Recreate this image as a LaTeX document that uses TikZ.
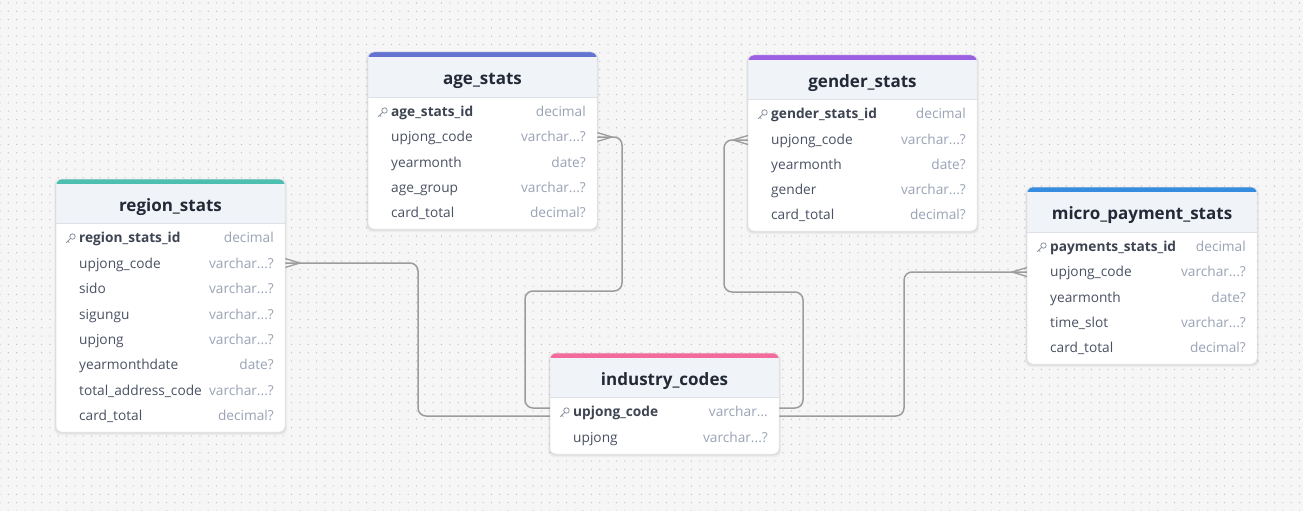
\documentclass[tikz,border=0pt]{standalone}
\usepackage{fontspec}
\setmainfont{Open Sans}
\usetikzlibrary{patterns.meta}
\definecolor{bgc}{HTML}{F6F6F6}
\definecolor{dotc}{HTML}{BDBDBD}
\definecolor{headbg}{HTML}{F0F3F8}
\definecolor{sepc}{HTML}{DCE1E8}
\definecolor{borderc}{HTML}{E2E5EA}
\definecolor{namec}{HTML}{4A5162}
\definecolor{pkc}{HTML}{3E4452}
\definecolor{typec}{HTML}{9AA3B5}
\definecolor{titlec}{HTML}{232936}
\definecolor{keyc}{HTML}{8F96A3}
\definecolor{linec}{HTML}{9C9C9C}
\definecolor{teal}{HTML}{4CBFB1}
\definecolor{indigo}{HTML}{6472D0}
\definecolor{purp}{HTML}{9B5FE2}
\definecolor{blu}{HTML}{368CDF}
\definecolor{pink}{HTML}{F46B9B}
\newcommand\ertable[8]{%
  \fill[black,opacity=0.04,rounded corners=6pt] (#2-2,#3) rectangle (#4+2,#6+3);
  \fill[black,opacity=0.06,rounded corners=6pt] (#2-1,#3+1) rectangle (#4+1,#6+1.5);
  \fill[white,rounded corners=6pt] (#2,#3) rectangle (#4,#6);
  \fill[#7,rounded corners=6pt] (#2,#3) rectangle (#4,#3+14);
  \fill[headbg] (#2,#3+5) rectangle (#4,#5);
  \draw[sepc,line width=0.8pt] (#2,#5) -- (#4,#5);
  \draw[borderc,line width=0.5pt,rounded corners=6pt] (#2,#3) rectangle (#4,#6);
  \node[titlef,anchor=base] (#1) at ({(#2+#4)/2},{(#3+5+#5)/2+7.5}) {#8};
}
\newcommand\erow[6]{% #1 id, #2 x1, #3 x2, #4 y, #5 name, #6 type
  \node[namef,anchor=base west] (#1) at (#2+23,#4+4.8) {#5};
  \node[typef,anchor=base east] (#1-t) at (#3-11,#4+4.8) {#6};
}
\newcommand\pkrow[6]{%
  \draw[keyc,line width=0.8pt] (#2+16.5,#4-1.5) circle (2.7);
  \draw[keyc,line width=0.8pt,line cap=round] (#2+14.6,#4+0.4) -- (#2+10.5,#4+4.5) (#2+11.8,#4+3.2) -- (#2+13.2,#4+4.6);
  \node[pkf,anchor=base west] (#1) at (#2+23,#4+4.8) {#5};
  \node[typef,anchor=base east] (#1-t) at (#3-11,#4+4.8) {#6};
}
\begin{document}
\begin{tikzpicture}[x=1pt,y=-1pt,
  titlef/.style={font=\fontsize{17}{19}\selectfont\bfseries,text=titlec,inner sep=0pt},
  namef/.style={font=\fontsize{13.7}{15}\selectfont,text=namec,inner sep=0pt},
  pkf/.style={font=\fontsize{13.7}{15}\selectfont\bfseries,text=pkc,inner sep=0pt},
  typef/.style={font=\fontsize{13.7}{15}\selectfont,text=typec,inner sep=0pt},
  conn/.style={draw=linec,line width=1.5pt,rounded corners=8pt},
  foot/.style={draw=linec,line width=1.3pt}]
\useasboundingbox (0,0) rectangle (1303,511);
\fill[bgc] (0,0) rectangle (1303,511);
\fill[pattern={Dots[radius=0.65pt,distance=8.33pt]},pattern color=dotc] (0,0) rectangle (1303,511);

% connector end points
\coordinate (rsE) at (285,263);
\coordinate (asE) at (597,137);
\coordinate (gsW) at (748,140);
\coordinate (mpW) at (1027,272);
\coordinate (icWa) at (551,408);
\coordinate (icWb) at (551,416);
\coordinate (icEa) at (778,408);
\coordinate (icEb) at (778,416);

% connectors
\draw[conn] (rsE) -- (418,263) -- (418,416) -- (icWb);
\draw[conn] (asE) -- (622,137) -- (622,291) -- (525,291) -- (525,408) -- (icWa);
\draw[conn] (gsW) -- (724,140) -- (724,292) -- (803,292) -- (803,408) -- (icEa);
\draw[conn] (mpW) -- (904,272) -- (904,416) -- (icEb);
% crow's feet
\draw[foot] (rsE) ++(15,0) -- ++(-15,-4.5) (rsE) ++(15,0) -- ++(-15,4.5);
\draw[foot] (asE) ++(15,0) -- ++(-15,-4.5) (asE) ++(15,0) -- ++(-15,4.5);
\draw[foot] (gsW) ++(-15,0) -- ++(15,-4.5) (gsW) ++(-15,0) -- ++(15,4.5);
\draw[foot] (mpW) ++(-15,0) -- ++(15,-4.5) (mpW) ++(-15,0) -- ++(15,4.5);

% region_stats
\ertable{rs}{56}{179}{285}{223}{432}{teal}{region\_stats}
\pkrow{rs1}{56}{285}{238}{region\_stats\_id}{decimal}
\erow{rs2}{56}{285}{263.4}{upjong\_code}{varchar...?}
\erow{rs3}{56}{285}{288.8}{sido}{varchar...?}
\erow{rs4}{56}{285}{314.2}{sigungu}{varchar...?}
\erow{rs5}{56}{285}{339.6}{upjong}{varchar...?}
\erow{rs6}{56}{285}{365}{yearmonthdate}{date?}
\begin{scope}
\clip (79,370) rectangle (204,400);
\erow{rs7}{56}{285}{390.4}{total\_address\_code}{}
\end{scope}
\node[typef,anchor=base east] (rs7-t) at (274,395.2) {varchar...?};
\erow{rs8}{56}{285}{415.8}{card\_total}{decimal?}

% age_stats
\ertable{as}{368}{52}{597}{97}{229}{indigo}{age\_stats}
\pkrow{as1}{368}{597}{112}{age\_stats\_id}{decimal}
\erow{as2}{368}{597}{137}{upjong\_code}{varchar...?}
\erow{as3}{368}{597}{162.2}{yearmonth}{date?}
\erow{as4}{368}{597}{187.5}{age\_group}{varchar...?}
\erow{as5}{368}{597}{212.7}{card\_total}{decimal?}

% gender_stats
\ertable{gs}{748}{55}{977}{99}{231}{purp}{gender\_stats}
\pkrow{gs1}{748}{977}{114}{gender\_stats\_id}{decimal}
\erow{gs2}{748}{977}{139.5}{upjong\_code}{varchar...?}
\erow{gs3}{748}{977}{164.5}{yearmonth}{date?}
\erow{gs4}{748}{977}{189.5}{gender}{varchar...?}
\erow{gs5}{748}{977}{215}{card\_total}{decimal?}

% micro_payment_stats
\ertable{mp}{1027}{187}{1257}{232}{364}{blu}{micro\_payment\_stats}
\pkrow{mp1}{1027}{1257}{247}{payments\_stats\_id}{decimal}
\erow{mp2}{1027}{1257}{272}{upjong\_code}{varchar...?}
\erow{mp3}{1027}{1257}{297.3}{yearmonth}{date?}
\erow{mp4}{1027}{1257}{322.6}{time\_slot}{varchar...?}
\erow{mp5}{1027}{1257}{348}{card\_total}{decimal?}

% industry_codes
\ertable{ic}{550}{353}{779}{397}{454}{pink}{industry\_codes}
\pkrow{ic1}{550}{779}{412}{upjong\_code}{varchar...}
\erow{ic2}{550}{779}{437.3}{upjong}{varchar...?}
\end{tikzpicture}
\end{document}
